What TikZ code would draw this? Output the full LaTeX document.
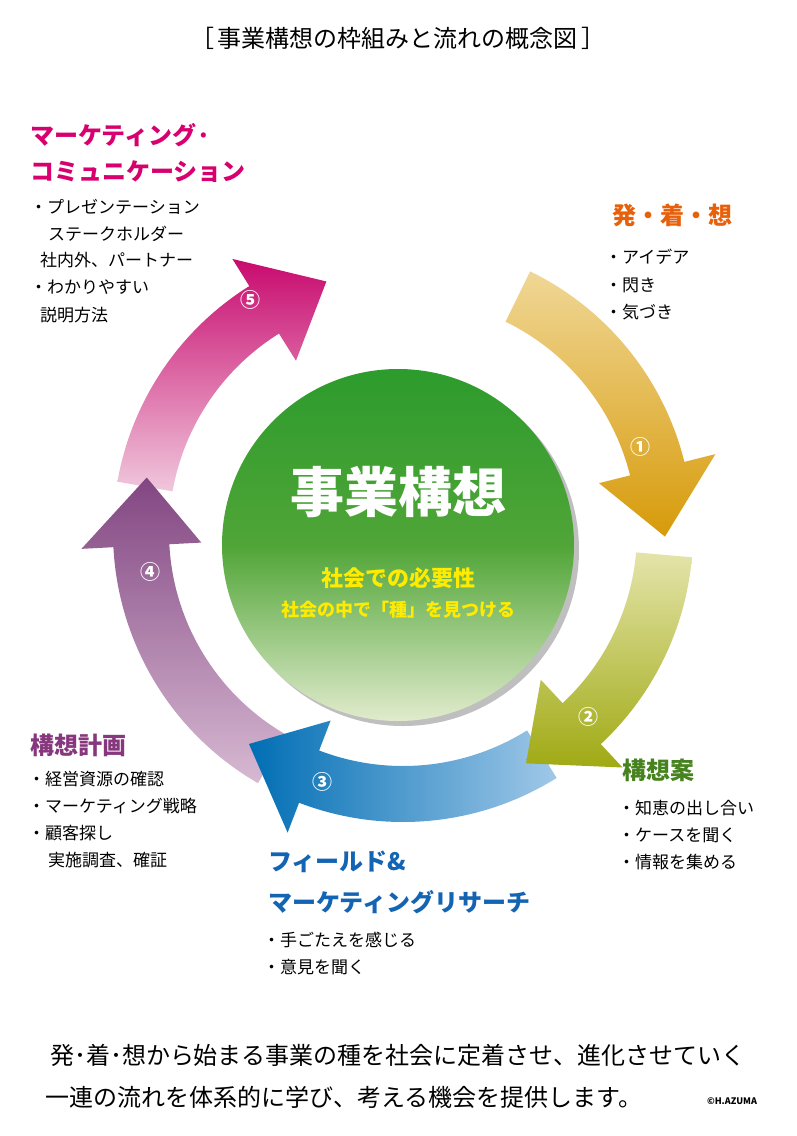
\documentclass[tikz,border=0pt]{standalone}
\usepackage{fontspec}
\setmainfont{Noto Sans CJK JP}
\usetikzlibrary{calc}
\tikzset{
 head/.style={font=\bfseries\fontsize{24}{26}\selectfont,anchor=west,inner sep=0},
 item/.style={font=\fontsize{17}{19}\selectfont,anchor=west,inner sep=0},
 num/.style={font=\bfseries\fontsize{20}{20}\selectfont,text=white,inner sep=0},
}
\newcommand\carrow[3]{%
 \pgfmathsetmacro\hb{#2+15}%
 \path[#3] ($(C)+(#1:290)$) arc[start angle=#1,end angle=\hb,radius=290]
  -- ($(C)+(\hb:322)$) -- ($(C)+(#2:262)$) -- ($(C)+(\hb:202)$)
  -- ($(C)+(\hb:234)$) arc[start angle=\hb,end angle=#1,radius=234] -- cycle;}
\begin{document}
\begin{tikzpicture}[x=1pt,y=1pt]
\useasboundingbox[fill=white] (0,0) rectangle (796,-1136);
\coordinate (C) at (403,-532);
\node[font=\fontsize{24}{26}\selectfont] (title) at (398,-38) {［\,事業構想の枠組みと流れの概念図\,］};
% arrows
\carrow{170}{107}{top color={rgb,255:red,200;green,10;blue,110}, bottom color={rgb,255:red,240;green,200;blue,220}}
\carrow{-120}{-192}{top color={rgb,255:red,130;green,70;blue,130}, bottom color={rgb,255:red,215;green,185;blue,210}}
\carrow{-58}{-126}{left color={rgb,255:red,0;green,110;blue,180}, right color={rgb,255:red,160;green,200;blue,232}}
\carrow{-5}{-62}{top color={rgb,255:red,228;green,228;blue,170}, bottom color={rgb,255:red,160;green,170;blue,20}}
\carrow{64}{-1}{top color={rgb,255:red,240;green,215;blue,150}, bottom color={rgb,255:red,215;green,155;blue,10}}
% circle
\fill[black!25] (403,-550) circle (176);
\shade[shading angle=-45, top color={rgb,255:red,45;green,155;blue,45}, bottom color={rgb,255:red,225;green,235;blue,205}, middle color={rgb,255:red,80;green,165;blue,55}] (398,-545) circle (176);
\node[font=\bfseries\fontsize{54}{56}\selectfont,text=white] (main) at (398,-492) {事業構想};
\node[font=\bfseries\fontsize{22}{24}\selectfont,text={rgb,255:red,255;green,235;blue,0}] (s1) at (398,-578) {社会での必要性};
\node[font=\bfseries\fontsize{18}{20}\selectfont,text={rgb,255:red,255;green,235;blue,0}] (s2) at (398,-610) {社会の中で「種」を見つける};
% numbers
\node[num] (n1) at (640,-447) {①};
\node[num] (n2) at (588,-717) {②};
\node[num] (n3) at (322,-782) {③};
\node[num] (n4) at (150,-572) {④};
\node[num] (n5) at (250,-300) {⑤};
% labels
\node[head,text={rgb,255:red,215;green,0;blue,110}] (h5a) at (30,-135) {マーケティング·};
\node[head,text={rgb,255:red,215;green,0;blue,110}] (h5b) at (30,-172) {コミュニケーション};
\node[item] at (30,-207) {・プレゼンテーション};
\node[item] at (48,-234) {ステークホルダー};
\node[item] at (40,-260) {社内外、パートナー};
\node[item] at (30,-287) {・わかりやすい};
\node[item] at (40,-315) {説明方法};
\node[head,text={rgb,255:red,232;green,96;blue,10}] (h1) at (612,-215) {発・着・想};
\node[item] at (605,-257) {・アイデア};
\node[item] at (605,-285) {・閃き};
\node[item] at (605,-312) {・気づき};
\node[head,text={rgb,255:red,70;green,130;blue,30}] (h2) at (622,-770) {構想案};
\node[item] at (618,-808) {・知恵の出し合い};
\node[item] at (618,-835) {・ケースを聞く};
\node[item] at (618,-862) {・情報を集める};
\node[head,text={rgb,255:red,20;green,100;blue,180}] (h3a) at (268,-862) {フィールド\&};
\node[head,text={rgb,255:red,20;green,100;blue,180}] (h3b) at (268,-902) {マーケティングリサーチ};
\node[item] at (263,-940) {・手ごたえを感じる};
\node[item] at (263,-967) {・意見を聞く};
\node[head,text={rgb,255:red,135;green,55;blue,125}] (h4) at (30,-745) {構想計画};
\node[item] at (28,-779) {・経営資源の確認};
\node[item] at (28,-806) {・マーケティング戦略};
\node[item] at (28,-833) {・顧客探し};
\node[item] at (48,-860) {実施調査、確証};
% bottom
\node[font=\fontsize{24}{26}\selectfont] (b1) at (398,-1055) {発･着･想から始まる事業の種を社会に定着させ、進化させていく};
\node[font=\fontsize{24}{26}\selectfont,anchor=west] (b2) at (42,-1097) {一連の流れを体系的に学び、考える機会を提供します。};
\node[font=\bfseries\fontsize{9}{10}\selectfont] (c) at (732,-1101) {©H.AZUMA};
\end{tikzpicture}
\end{document}
